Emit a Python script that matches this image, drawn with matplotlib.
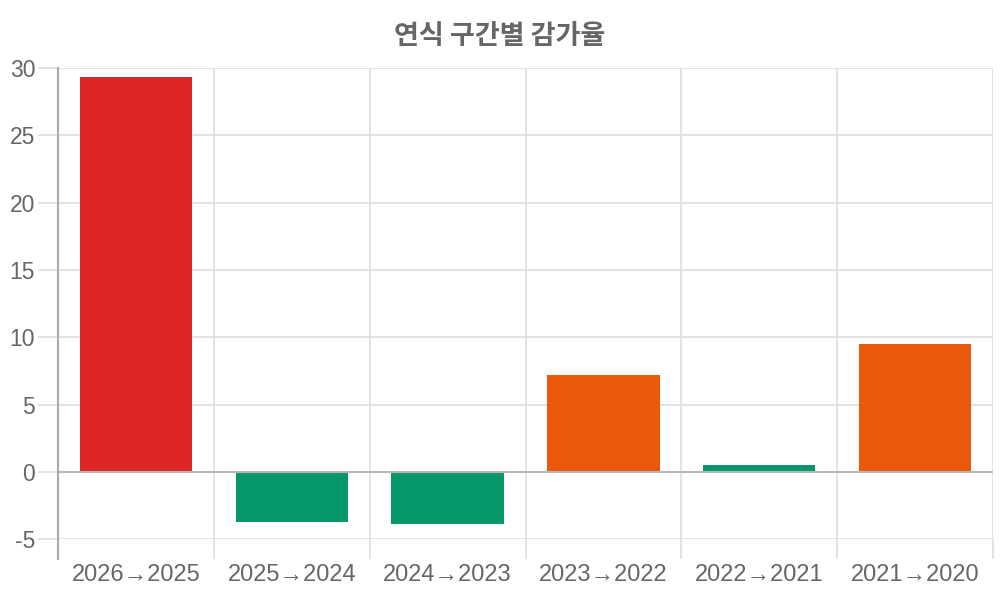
"""
연식 구간별 감가율 - bar chart of depreciation rate per model-year step.
"""
import matplotlib
matplotlib.use("Agg")
import matplotlib.pyplot as plt
import numpy as np

categories = ["2026→2025", "2025→2024", "2024→2023", "2023→2022", "2022→2021", "2021→2020"]
rates = [29.3, -3.7, -3.9, 7.2, 0.5, 9.5]
bar_colors = ["#dc2626", "#059669", "#059669", "#ea580c", "#059669", "#ea580c"]
y_ticks = [-5, 0, 5, 10, 15, 20, 25, 30]

plt.rcParams["font.family"] = ["Liberation Sans", "DejaVu Sans"]

TEXT = "#666666"
GRID = "#dedede"
TICK_LEN = 14.4  # 20 px at dpi 100

fig = plt.figure(figsize=(10, 6), dpi=100)
ax = fig.add_axes([0.058, 0.1012, 0.935, 0.7855])

x = np.arange(len(categories))
ax.bar(x, rates, width=0.72, color=bar_colors, zorder=3)

ax.set_xlim(-0.5, len(categories) - 0.5)
ax.set_ylim(-5, 30)

# grid lines at category boundaries, labels in the middle
ax.set_xticks(np.arange(len(categories) + 1) - 0.5)
ax.set_xticklabels([])
ax.set_xticks(x, minor=True)
ax.set_xticklabels(categories, minor=True)
ax.tick_params(axis="x", which="major", length=TICK_LEN, color=GRID, width=1.2)
ax.tick_params(axis="x", which="minor", length=0, pad=18, labelsize=17, labelcolor=TEXT)

ax.set_yticks(y_ticks)
ax.set_yticklabels([str(v) for v in y_ticks])
ax.tick_params(axis="y", length=TICK_LEN, color=GRID, width=1.2, pad=2, labelsize=16.5, labelcolor=TEXT)

ax.grid(True, which="major", color=GRID, linewidth=1.2, zorder=0)
ax.axhline(0, color="#b8b8b8", linewidth=1.5, zorder=4)

for side in ["top", "right", "bottom", "left"]:
    ax.spines[side].set_visible(False)
ax.plot([0, 0], [-0.042, 1], transform=ax.transAxes, color="#ababab",
        linewidth=1.5, clip_on=False, zorder=5)

fig.text(0.5, 0.94, "연식 구간별 감가율", ha="center", va="center",
         fontsize=19.5, fontweight="bold", color=TEXT,
         family=["Noto Sans CJK KR", "DejaVu Sans"])

plt.savefig("out.png", dpi=100)
plt.close()
